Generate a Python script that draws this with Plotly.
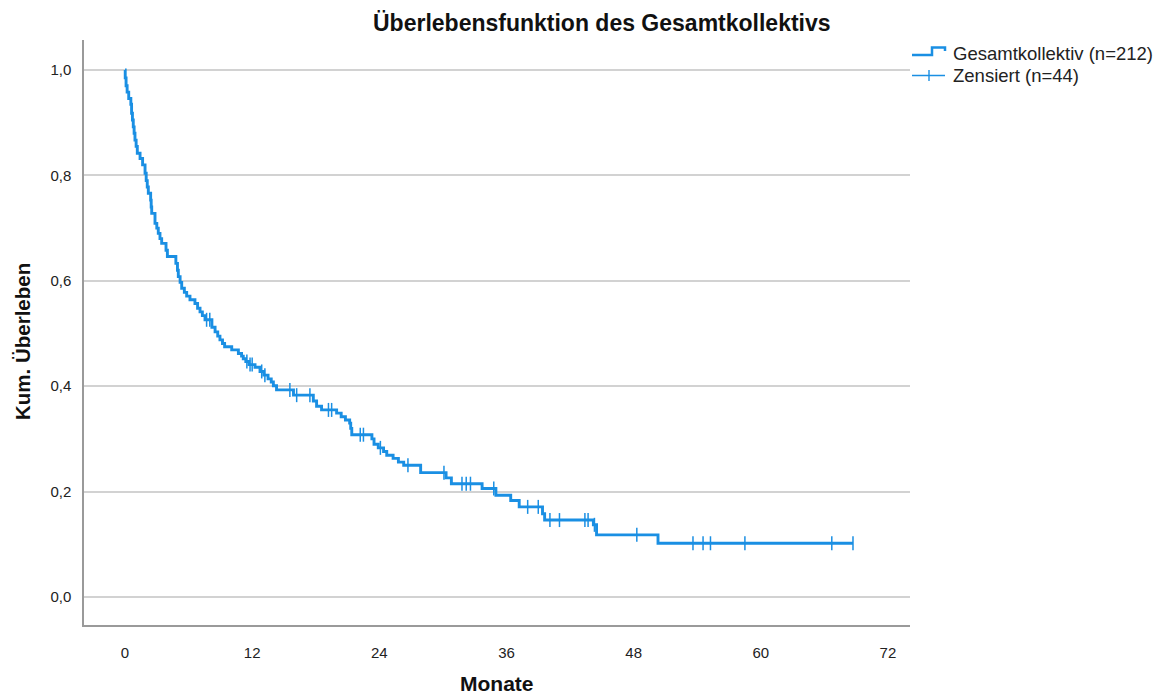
import numpy as np
import plotly.graph_objects as go

# ---------------- data ----------------
event_times = [0.02, 0.1, 0.2, 0.35, 0.55, 0.62, 0.7, 0.78, 0.86, 0.94, 1.05, 1.16, 1.42, 1.66,
               1.89, 2.0, 2.1, 2.2, 2.42, 2.47, 2.52, 2.83, 3.0, 3.14, 3.3, 3.46, 3.87, 4.0,
               4.8, 4.95, 5.03, 5.2, 5.35, 5.6, 5.82, 6.13, 6.6, 6.85, 7.08, 7.3, 7.55,
               8.2, 8.5, 8.75, 8.96, 9.2, 9.4, 10.07, 10.7, 11.0, 11.16, 11.4, 11.7, 12.27,
               12.74, 13.1, 13.5, 13.8, 14.0, 14.3, 15.9, 17.77, 18.08, 18.55, 19.97, 20.4,
               20.8, 21.2, 21.3, 21.4, 23.3, 23.5, 23.9, 24.4, 24.7, 25.3, 25.8, 26.3, 27.9,
               30.3, 30.8, 33.7, 35.0, 36.4, 37.2, 39.4, 39.6, 44.2, 44.5, 50.3]
survival = [0.985, 0.97, 0.958, 0.946, 0.935, 0.918, 0.905, 0.892, 0.88, 0.867, 0.855, 0.842,
            0.832, 0.82, 0.804, 0.79, 0.778, 0.766, 0.753, 0.74, 0.728, 0.709, 0.70, 0.69,
            0.68, 0.671, 0.658, 0.646, 0.633, 0.62, 0.608, 0.597, 0.586, 0.578, 0.571, 0.564,
            0.557, 0.548, 0.541, 0.534, 0.526, 0.512, 0.503, 0.495, 0.488, 0.481, 0.475,
            0.469, 0.462, 0.457, 0.452, 0.447, 0.441, 0.436, 0.428, 0.421, 0.414, 0.408,
            0.401, 0.393, 0.383, 0.372, 0.362, 0.355, 0.349, 0.342, 0.336, 0.33, 0.32, 0.308,
            0.30, 0.29, 0.283, 0.276, 0.269, 0.263, 0.256, 0.25, 0.236, 0.226, 0.215, 0.206,
            0.193, 0.183, 0.171, 0.158, 0.146, 0.137, 0.118, 0.102]
censor_times = [7.7, 8.0, 11.5, 11.8, 12.0, 12.9, 13.2, 15.56, 16.2, 17.45, 19.2, 19.5, 22.2,
                22.5, 24.1, 26.7, 30.1, 31.8, 32.2, 32.6, 34.8, 38.0, 39.0, 40.1, 41.0, 43.4,
                43.7, 44.3, 48.3, 53.6, 54.55, 55.25, 58.5, 66.7, 68.7]
last_followup = 68.7

x_tickvals = [0, 12, 24, 36, 48, 60, 72]
y_tickvals = [0.0, 0.2, 0.4, 0.6, 0.8, 1.0]
y_ticktext = ["0,0", "0,2", "0,4", "0,6", "0,8", "1,0"]

title_text = "Überlebensfunktion des Gesamtkollektivs"
x_title = "Monate"
y_title = "Kum. Überleben"
legend_labels = ["Gesamtkollektiv (n=212)", "Zensiert (n=44)"]

# ---------------- figure ----------------
BLUE = "#1a8fe3"
W, H = 1161, 697
L, R, T, B = 84, 910, 40, 625  # plot area in pixels


def px(xp):
    return (xp - L) / (R - L)


def py(yp):
    return (B - yp) / (B - T)


step_x = [0.0] + event_times + [last_followup]
step_y = [1.0] + survival + [survival[-1]]

ev = np.array(event_times)
sv = np.array(survival)
ct = np.array(censor_times)
idx = np.searchsorted(ev, ct, side="right") - 1
censor_y = np.where(idx >= 0, sv[np.clip(idx, 0, None)], 1.0)

fig = go.Figure()
fig.add_trace(go.Scatter(x=step_x, y=step_y, mode="lines", line=dict(color=BLUE, width=2.9, shape="hv"),
                         showlegend=False, hoverinfo="skip"))
fig.add_trace(go.Scatter(x=ct, y=censor_y, mode="markers",
                         marker=dict(symbol="line-ns", size=10, line=dict(color=BLUE, width=1.5)),
                         showlegend=False, hoverinfo="skip"))

FONT = "Liberation Sans, Arial, sans-serif"

fig.update_layout(
    width=W, height=H,
    margin=dict(l=L, r=W - R, t=T, b=H - B, pad=0),
    plot_bgcolor="white", paper_bgcolor="white",
    font=dict(family=FONT, size=15, color="#222222"),
    showlegend=False,
)
fig.update_xaxes(range=[-3.87, 74.08], tickvals=x_tickvals, showgrid=False, zeroline=False,
                 showline=True, linecolor="#9a9a9a", linewidth=1.5, ticks="",
                 ticklabelstandoff=13, tickfont=dict(family=FONT, size=15, color="#222222"))
fig.update_yaxes(range=[-0.0531, 1.0569], tickvals=y_tickvals, ticktext=y_ticktext,
                 showgrid=True, gridcolor="#d2d2d2", gridwidth=1.5, zeroline=False,
                 showline=True, linecolor="#9a9a9a", linewidth=1.5, ticks="",
                 ticklabelstandoff=8, tickfont=dict(family=FONT, size=15, color="#222222"))

ann = []
ann.append(dict(text="<b>" + title_text + "</b>", xref="paper", yref="paper", x=px(602), y=py(23),
                xanchor="center", yanchor="middle", showarrow=False,
                font=dict(family=FONT, size=23, color="#111111")))
ann.append(dict(text="<b>" + x_title + "</b>", xref="paper", yref="paper", x=px(497), y=py(683),
                xanchor="center", yanchor="middle", showarrow=False,
                font=dict(family=FONT, size=21, color="#111111")))
ann.append(dict(text="<b>" + y_title + "</b>", xref="paper", yref="paper", x=px(23), y=py(342),
                xanchor="center", yanchor="middle", textangle=-90, showarrow=False,
                font=dict(family=FONT, size=20.5, color="#111111")))
ann.append(dict(text=legend_labels[0], xref="paper", yref="paper", x=px(951), y=py(53),
                xanchor="left", yanchor="middle", showarrow=False,
                font=dict(family=FONT, size=18.5, color="#222222")))
ann.append(dict(text=legend_labels[1], xref="paper", yref="paper", x=px(951), y=py(75),
                xanchor="left", yanchor="middle", showarrow=False,
                font=dict(family=FONT, size=18.5, color="#222222")))
fig.update_layout(annotations=ann)

shapes = []
# step-shaped legend icon
shapes.append(dict(type="path", xref="paper", yref="paper",
                   path=f"M {px(912)} {py(55)} L {px(932)} {py(55)} L {px(932)} {py(47.5)} "
                        f"L {px(945)} {py(47.5)} L {px(945)} {py(51)}",
                   line=dict(color=BLUE, width=2.5)))
# censored legend icon
shapes.append(dict(type="line", xref="paper", yref="paper", x0=px(912), x1=px(945), y0=py(75.5), y1=py(75.5),
                   line=dict(color=BLUE, width=1.4)))
shapes.append(dict(type="line", xref="paper", yref="paper", x0=px(929), x1=px(929), y0=py(70), y1=py(81),
                   line=dict(color=BLUE, width=1.4)))
fig.update_layout(shapes=shapes)

fig.write_html("out.html")
